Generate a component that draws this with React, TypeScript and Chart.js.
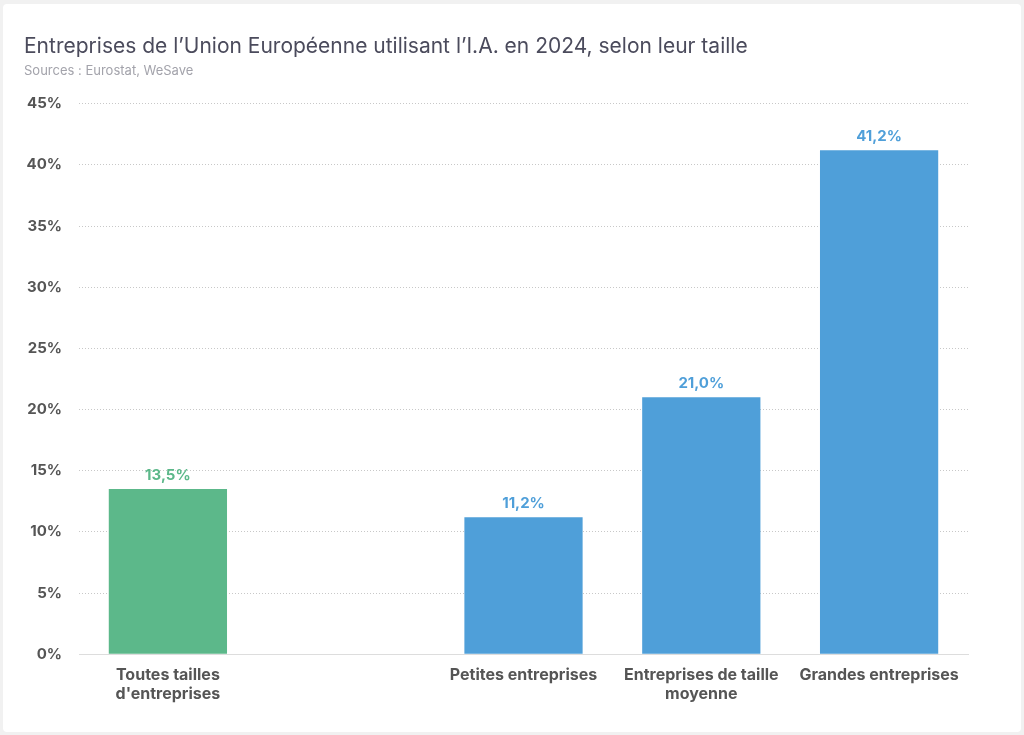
import React, { useEffect, useRef } from "react";
import { Chart, registerables } from "chart.js";

Chart.register(...registerables);

const categories: (string | string[])[] = [
  ["Toutes tailles", "d'entreprises"],
  "",
  "Petites entreprises",
  ["Entreprises de taille", "moyenne"],
  "Grandes entreprises",
];
const values: (number | null)[] = [13.5, null, 11.2, 21.0, 41.2];
const barColors = ["#5cb88a", "#4f9fd9", "#4f9fd9", "#4f9fd9", "#4f9fd9"];
const yMax = 45;
const yStep = 5;

const FONT = "Inter, 'Noto Sans', sans-serif";

const fmt = (v: number, d: number) => v.toFixed(d).replace(".", ",") + "%";

const valueLabels = {
  id: "valueLabels",
  afterDatasetsDraw(chart: Chart) {
    const ctx = chart.ctx;
    const meta = chart.getDatasetMeta(0);
    ctx.save();
    ctx.font = `bold 15px ${FONT}`;
    ctx.textAlign = "center";
    ctx.textBaseline = "bottom";
    meta.data.forEach((bar: any, i: number) => {
      const v = values[i];
      if (v == null) return;
      ctx.fillStyle = barColors[i];
      ctx.fillText(fmt(v, 1), bar.x, bar.y - 6);
    });
    ctx.restore();
  },
};

const App: React.FC = () => {
  const canvasRef = useRef<HTMLCanvasElement | null>(null);
  const chartRef = useRef<Chart | null>(null);

  useEffect(() => {
    const ctx = canvasRef.current?.getContext("2d");
    if (!ctx) return;
    if (chartRef.current) chartRef.current.destroy();

    chartRef.current = new Chart(ctx, {
      type: "bar",
      data: {
        labels: categories,
        datasets: [
          {
            data: values,
            backgroundColor: barColors,
            categoryPercentage: 1,
            barPercentage: 0.665,
          },
        ],
      },
      options: {
        animation: false,
        responsive: true,
        maintainAspectRatio: false,
        layout: { padding: { left: 21, right: 53, top: 30, bottom: 17 } },
        plugins: {
          legend: { display: false },
          tooltip: { enabled: false },
          title: {
            display: true,
            text: "Entreprises de l’Union Européenne utilisant l’I.A. en 2024, selon leur taille",
            align: "start",
            color: "#4b4b5c",
            font: { family: FONT, size: 21, weight: "normal" },
            padding: { top: 0, bottom: 4 },
          },
          subtitle: {
            display: true,
            text: "Sources : Eurostat, WeSave",
            align: "start",
            color: "#a3a3ab",
            font: { family: FONT, size: 13 },
            padding: { top: 0, bottom: 25 },
          },
        },
        scales: {
          x: {
            grid: { display: false, drawTicks: false },
            border: { display: true, color: "#dddddd", width: 1 },
            ticks: {
              color: "#555555",
              font: { family: FONT, size: 16, weight: "bold", lineHeight: 1.15 },
              padding: 12,
              maxRotation: 0,
              autoSkip: false,
            },
          },
          y: {
            min: 0,
            max: yMax,
            afterFit: (scale: any) => {
              scale.width = 55;
            },
            border: { display: false, dash: [1, 2] },
            grid: { color: "#c8c8c8", lineWidth: 1, drawTicks: false },
            ticks: {
              stepSize: yStep,
              color: "#555555",
              font: { family: FONT, size: 15, weight: "bold" },
              padding: 17,
              callback: (v: any) => v + "%",
            },
          },
        },
      },
      plugins: [valueLabels],
    });

    return () => {
      if (chartRef.current) {
        chartRef.current.destroy();
        chartRef.current = null;
      }
    };
  }, []);

  return (
    <div
      style={{
        position: "absolute",
        left: 0,
        top: 0,
        width: 1024,
        height: 735,
        background: "#f1f1f1",
      }}
    >
      <div
        style={{
          position: "absolute",
          left: 3,
          top: 4,
          width: 1018,
          height: 728,
          background: "#ffffff",
          borderRadius: 4,
        }}
      >
        <canvas ref={canvasRef}></canvas>
      </div>
    </div>
  );
};

export default App;
